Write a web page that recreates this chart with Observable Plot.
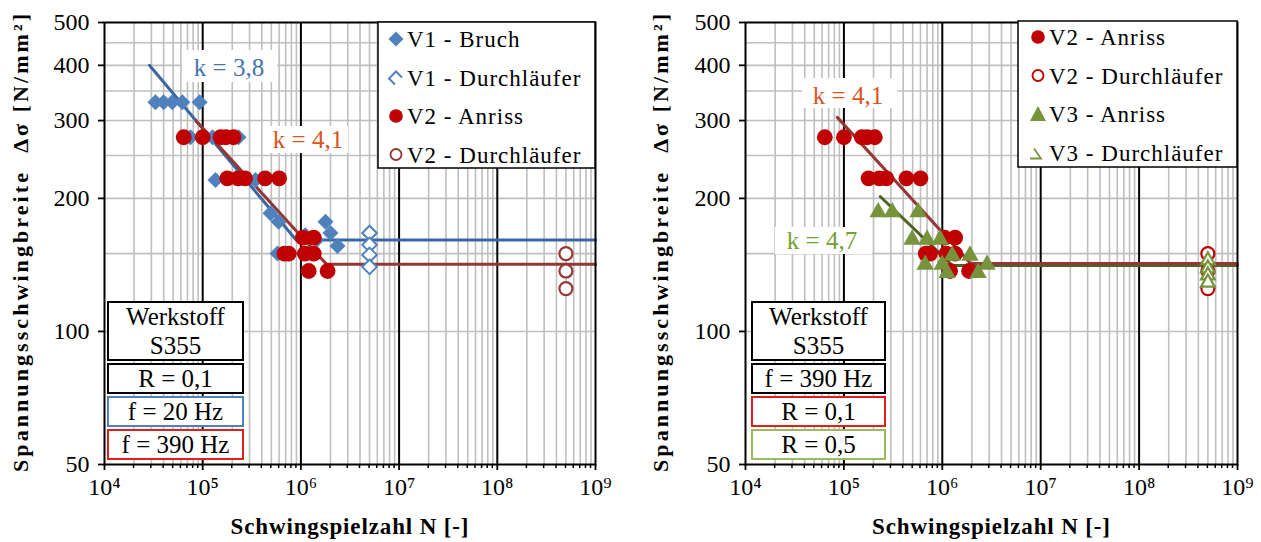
<!DOCTYPE html>
<html><head><meta charset="utf-8">
<script src="https://cdn.jsdelivr.net/npm/d3@7"></script>
<script src="https://cdn.jsdelivr.net/npm/@observablehq/plot@0.6"></script>
<style>
html,body{margin:0;padding:0;background:#fff;}
#fig{display:flex;width:1261px;height:542px;overflow:hidden;}
#fig svg{flex:none;}
svg text{font-family:"Liberation Serif","Times New Roman",serif;}
g[aria-label$="tick"] path{stroke-width:1.8;}
</style></head><body><div id="fig"></div>
<script>
// ---------- axis / tick values ----------
const xTicks = [1e4, 1e5, 1e6, 1e7, 1e8, 1e9];
const xMajorGrid = [1e5, 1e6, 1e7, 1e8];
const xDecades = [1e4, 1e5, 1e6, 1e7, 1e8];
const xMinorMult = [2, 3, 4, 5, 6, 7, 8, 9];
const yTicks = [50, 100, 200, 300, 400, 500];
const yGrid = [100, 150, 200, 250, 300, 350, 400, 450];
const supDigits = {"4": "⁴", "5": "⁵", "6": "⁶", "7": "⁷", "8": "⁸", "9": "⁹"};

// ---------- series (N = Schwingspielzahl, S = Spannungsschwingbreite) ----------
const v1BruchN = [33000, 40000, 49000, 62000, 93000, 75000, 126000, 232000, 135000, 345000, 490000, 592000, 578000, 1060000, 1110000, 1440000, 1780000, 2000000, 2360000];
const v1BruchS = [330, 330, 330, 330, 330, 275, 275, 275, 220, 220, 185, 177, 150, 150, 165, 161, 177, 167, 156];
const v1RunN = [5e6, 5e6, 5e6, 5e6];
const v1RunS = [167, 157, 149, 140];
const v2AnrissN = [64000, 100000, 152000, 172000, 206000, 178000, 229000, 270000, 432000, 600000, 1050000, 1350000, 680000, 750000, 1100000, 1350000, 1200000, 1870000];
const v2AnrissS = [275, 275, 275, 275, 275, 222, 222, 222, 222, 222, 163, 163, 150, 150, 150, 150, 137, 137];
const v2RunN = [5e8, 5e8, 5e8];
const v2RunS = [150, 137, 125];
const v3AnrissN = [223000, 310000, 568000, 494000, 700000, 950000, 670000, 995000, 1260000, 1910000, 1120000, 2310000, 2850000];
const v3AnrissS = [188, 188, 188, 163, 163, 163, 143, 143, 150, 150, 137, 137, 143];
const v3RunN = [5e8, 5e8, 5e8, 5e8];
const v3RunS = [146, 140, 135, 130];

// fitted Wöhler lines (start, knee, end)
const v1FitN = [28700, 895000, 1e9];
const v1FitS = [400, 161, 161];
const v2FitLeftN = [85000, 1820000, 1e9];
const v2FitLeftS = [300, 142, 142];
const v2FitRightN = [85700, 1940000, 1e9];
const v2FitRightS = [305, 142.5, 142.5];
const v3FitN = [234000, 1265000, 1e9];
const v3FitS = [202, 141, 141];

// ---------- helpers ----------
const pts = (N, S) => N.map((n, i) => ({N: n, S: S[i]}));
const xMinor = xDecades.flatMap(d => xMinorMult.map(m => m * d));
const fmtX = d => "10" + supDigits[String(Math.round(Math.log10(d)))];
const diamondSym = {draw(ctx, size) { const r = Math.sqrt(size / Math.PI); ctx.moveTo(0, -r); ctx.lineTo(r, 0); ctx.lineTo(0, r); ctx.lineTo(-r, 0); ctx.closePath(); }};
const triangleSym = {draw(ctx, size) { const r = Math.sqrt(size / Math.PI); ctx.moveTo(0, -r); ctx.lineTo(r * 1.05, r * 0.85); ctx.lineTo(-r * 1.05, r * 0.85); ctx.closePath(); }};

const C = {
  blue: "#4F81BD", blueLine: "#3B67A0", red: "#C00000", redLine: "#953735",
  green: "#77933C", greenLine: "#4F6228", grid: "#BFBFBF",
  kBlue: "#4674AE", kRed: "#D9541E", kGreen: "#76A030", boxRed: "#E0201E", boxGreen: "#9BBB59"
};

function basePlot(width, ml, mr, marks) {
  return Plot.plot({
    width, height: 542, marginLeft: ml, marginRight: mr, marginTop: 22, marginBottom: 78,
    style: {fontFamily: "Liberation Serif, Times New Roman, serif", fontSize: "24px", color: "#000", background: "white", overflow: "visible"},
    x: {type: "log", domain: [1e4, 1e9], ticks: xTicks, tickFormat: fmtX, tickSize: 6, tickPadding: 7, label: null},
    y: {type: "log", domain: [50, 500], ticks: yTicks, tickFormat: d => String(d), tickSize: 6, tickPadding: 9, label: null},
    marks: [
      Plot.ruleX(xMinor, {stroke: C.grid, strokeWidth: 1.6}),
      Plot.ruleY(yGrid, {stroke: C.grid, strokeWidth: 1.6}),
      Plot.ruleX(xMajorGrid, {stroke: "#000", strokeWidth: 2}),
      ...marks,
      Plot.frame({stroke: "#000", strokeWidth: 2})
    ]
  });
}

function decorate(svg, opts) {
  const s = d3.select(svg);
  const x = svg.scale("x"), y = svg.scale("y");
  // minor ticks on x axis
  const g = s.append("g").attr("stroke", "#000").attr("stroke-width", 1.5);
  xMinor.forEach(v => g.append("line").attr("x1", x.apply(v)).attr("x2", x.apply(v)).attr("y1", y.apply(50)).attr("y2", y.apply(50) + 4));
  // axis titles
  s.append("text").attr("x", (x.apply(1e4) + x.apply(1e9)) / 2).attr("y", 534).attr("text-anchor", "middle")
    .attr("font-weight", "bold").attr("font-size", 23).attr("textLength", 238).attr("lengthAdjust", "spacing")
    .text("Schwingspielzahl N [-]");
  s.append("text").attr("transform", "rotate(-90)").attr("x", -243).attr("y", opts.yTitleX).attr("text-anchor", "middle")
    .attr("font-weight", "bold").attr("font-size", 22).attr("textLength", 458).attr("lengthAdjust", "spacing")
    .text("Spannungsschwingbreite  Δσ [N/mm²]");
  // k labels
  opts.kLabels.forEach(k => {
    s.append("rect").attr("x", k.bx).attr("y", k.by).attr("width", k.bw).attr("height", k.bh).attr("fill", "white");
    s.append("text").attr("x", k.cx).attr("y", k.cy).attr("dy", "0.35em").attr("text-anchor", "middle")
      .attr("font-size", 25).attr("fill", k.color).text(k.text);
  });
  // info boxes
  opts.boxes.forEach(b => {
    s.append("rect").attr("x", b.x).attr("y", b.y).attr("width", b.w).attr("height", b.h)
      .attr("fill", "white").attr("stroke", b.stroke).attr("stroke-width", 2);
    b.lines.forEach((t, i) => s.append("text").attr("x", b.x + b.w / 2).attr("y", b.ty[i]).attr("dy", "0.35em")
      .attr("text-anchor", "middle").attr("font-size", 25).text(t));
  });
  // legend
  const L = opts.legend;
  s.append("rect").attr("x", L.x).attr("y", L.y).attr("width", L.w).attr("height", L.h)
    .attr("fill", "white").attr("stroke", "#000").attr("stroke-width", 1.5);
  L.items.forEach((it, i) => {
    const cy = L.ys[i], sx = L.sx;
    if (it.sym === "diamond") s.append("path").attr("d", `M${sx},${cy - 7.5}L${sx + 7.5},${cy}L${sx},${cy + 7.5}L${sx - 7.5},${cy}Z`).attr("fill", it.color);
    if (it.sym === "halfDiamond") s.append("path").attr("d", `M${sx - 1},${cy + 7}L${sx - 7},${cy + 1}L${sx},${cy - 6}L${sx + 6},${cy}`).attr("fill", "none").attr("stroke", it.color).attr("stroke-width", 2);
    if (it.sym === "dot") s.append("circle").attr("cx", sx).attr("cy", cy).attr("r", 6.8).attr("fill", it.color);
    if (it.sym === "ring") s.append("circle").attr("cx", sx).attr("cy", cy).attr("r", 5.5).attr("fill", "white").attr("stroke", it.color).attr("stroke-width", 1.9);
    if (it.sym === "triangle") s.append("path").attr("d", `M${sx},${cy - 8}L${sx + 8},${cy + 7}L${sx - 8},${cy + 7}Z`).attr("fill", it.color);
    if (it.sym === "halfTriangle") s.append("path").attr("d", `M${sx - 4},${cy - 4}L${sx + 3},${cy + 6}L${sx - 8},${cy + 6}`).attr("fill", "none").attr("stroke", it.color).attr("stroke-width", 1.8);
    s.append("text").attr("x", L.tx).attr("y", cy).attr("dy", "0.35em").attr("text-anchor", "start")
      .attr("font-size", 23).attr("letter-spacing", 1).text(it.label);
  });
}

// ---------- left chart ----------
const left = basePlot(630, 104, 35, [
  Plot.line(pts(v1FitN, v1FitS), {x: "N", y: "S", stroke: C.blueLine, strokeWidth: 3}),
  Plot.line(pts(v2FitLeftN, v2FitLeftS), {x: "N", y: "S", stroke: C.redLine, strokeWidth: 3}),
  Plot.dot(pts(v1BruchN, v1BruchS), {x: "N", y: "S", symbol: diamondSym, r: 8, fill: C.blue}),
  Plot.dot(pts(v1RunN, v1RunS), {x: "N", y: "S", symbol: diamondSym, r: 7.3, fill: "white", stroke: C.blue, strokeWidth: 2}),
  Plot.dot(pts(v2AnrissN, v2AnrissS), {x: "N", y: "S", symbol: "circle", r: 7.9, fill: C.red}),
  Plot.dot(pts(v2RunN, v2RunS), {x: "N", y: "S", symbol: "circle", r: 6.5, fill: "white", stroke: C.redLine, strokeWidth: 2.2})
]);
decorate(left, {
  yTitleX: 28,
  kLabels: [
    {text: "k = 3,8", color: C.kBlue, bx: 182, by: 50, bw: 95, bh: 32, cx: 229, cy: 67},
    {text: "k = 4,1", color: C.kRed, bx: 267, by: 126, bw: 81, bh: 27, cx: 308, cy: 139}
  ],
  boxes: [
    {x: 108, y: 302, w: 135, h: 58, stroke: "#000", lines: ["Werkstoff", "S355"], ty: [316, 345]},
    {x: 108, y: 364, w: 135, h: 29, stroke: "#000", lines: ["R = 0,1"], ty: [378.5]},
    {x: 108, y: 397, w: 135, h: 29, stroke: C.blue, lines: ["f = 20 Hz"], ty: [411.5]},
    {x: 108, y: 430, w: 135, h: 29, stroke: C.boxRed, lines: ["f = 390 Hz"], ty: [444.5]}
  ],
  legend: {x: 378, y: 22, w: 217, h: 146, sx: 396, tx: 407, ys: [39, 77.5, 116, 154.5], items: [
    {sym: "diamond", color: C.blue, label: "V1 - Bruch"},
    {sym: "halfDiamond", color: C.blue, label: "V1 - Durchläufer"},
    {sym: "dot", color: C.red, label: "V2 - Anriss"},
    {sym: "ring", color: C.redLine, label: "V2 - Durchläufer"}
  ]}
});

// ---------- right chart ----------
const right = basePlot(631, 115, 24, [
  Plot.line(pts(v3FitN, v3FitS), {x: "N", y: "S", stroke: C.greenLine, strokeWidth: 3}),
  Plot.line(pts(v2FitRightN, v2FitRightS), {x: "N", y: "S", stroke: C.redLine, strokeWidth: 3}),
  Plot.dot(pts(v2AnrissN, v2AnrissS), {x: "N", y: "S", symbol: "circle", r: 7.9, fill: C.red}),
  Plot.dot(pts(v2RunN, v2RunS), {x: "N", y: "S", symbol: "circle", r: 6.5, fill: "white", stroke: C.red, strokeWidth: 2.2}),
  Plot.dot(pts(v3AnrissN, v3AnrissS), {x: "N", y: "S", symbol: triangleSym, r: 8.3, fill: C.green}),
  Plot.dot(pts(v3RunN, v3RunS), {x: "N", y: "S", symbol: triangleSym, r: 6.5, fill: "white", stroke: C.green, strokeWidth: 2.2})
]);
decorate(right, {
  yTitleX: 38,
  kLabels: [
    {text: "k = 4,1", color: C.kRed, bx: 172, by: 78, bw: 95, bh: 30, cx: 218, cy: 95},
    {text: "k = 4,7", color: C.kGreen, bx: 145, by: 227, bw: 97, bh: 27, cx: 192, cy: 240}
  ],
  boxes: [
    {x: 122, y: 302, w: 133, h: 58, stroke: "#000", lines: ["Werkstoff", "S355"], ty: [316, 345]},
    {x: 122, y: 364, w: 133, h: 29, stroke: "#000", lines: ["f = 390 Hz"], ty: [378.5]},
    {x: 122, y: 397, w: 133, h: 29, stroke: C.boxRed, lines: ["R = 0,1"], ty: [411.5]},
    {x: 122, y: 430, w: 133, h: 29, stroke: C.boxGreen, lines: ["R = 0,5"], ty: [444.5]}
  ],
  legend: {x: 388, y: 21, w: 219, h: 146, sx: 408, tx: 419, ys: [37, 75.5, 114, 152.5], items: [
    {sym: "dot", color: C.red, label: "V2 - Anriss"},
    {sym: "ring", color: C.red, label: "V2 - Durchläufer"},
    {sym: "triangle", color: C.green, label: "V3 - Anriss"},
    {sym: "halfTriangle", color: C.green, label: "V3 - Durchläufer"}
  ]}
});

document.getElementById("fig").append(left, right);
</script></body></html>
